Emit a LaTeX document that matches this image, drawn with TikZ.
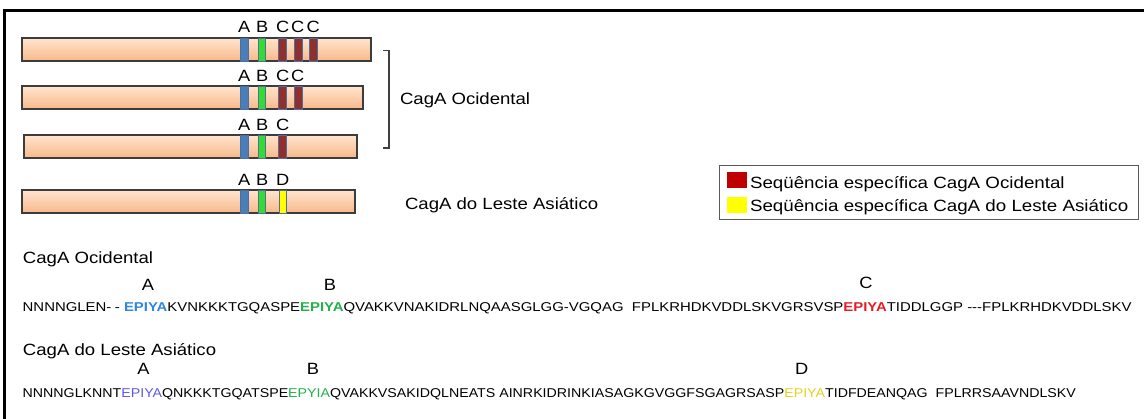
\documentclass[tikz,border=0pt]{standalone}
\usepackage{fontspec}
\setmainfont{Liberation Sans}[Ligatures=TeXOff]
\definecolor{peachtop}{RGB}{255,229,206}
\definecolor{peachbot}{RGB}{247,184,138}
\definecolor{barline}{RGB}{60,60,60}
\definecolor{segblue}{RGB}{74,126,187}
\definecolor{seggreen}{RGB}{50,220,50}
\definecolor{segred}{RGB}{142,48,48}
\definecolor{segyellow}{RGB}{255,255,0}
\definecolor{segline}{RGB}{80,110,150}
\definecolor{legred}{RGB}{192,0,0}
\definecolor{legline}{RGB}{90,90,90}
\definecolor{brk}{RGB}{64,64,64}
\definecolor{sqblue}{RGB}{46,134,222}
\definecolor{sqgreen}{RGB}{37,176,74}
\definecolor{sqred}{RGB}{227,30,36}
\definecolor{sqpurple}{RGB}{90,90,230}
\definecolor{sqyellow}{RGB}{228,210,30}
\newcommand\sx[2]{\scalebox{#1}[1]{#2}}
\begin{document}
\begin{tikzpicture}[x=1pt,y=-1pt,
  bar/.style={draw=barline, line width=1.1pt, top color=peachtop, bottom color=peachbot,
    inner sep=0pt, outer sep=0pt, anchor=north west, minimum height=23pt},
  seg/.style={draw=segline, line width=0.7pt, inner sep=0pt, outer sep=0pt,
    minimum width=7.6pt, minimum height=23pt},
  lbl/.style={inner sep=0pt, outer sep=0pt, font=\fontsize{16.3}{19}\selectfont},
  head/.style={inner sep=0pt, outer sep=0pt, anchor=base west, font=\fontsize{16.3}{19}\selectfont},
  seqtxt/.style={inner sep=0pt, outer sep=0pt, anchor=base west, font=\fontsize{12.8}{15}\selectfont},
  sq/.style={inner sep=0pt, outer sep=0pt, anchor=north west, minimum width=20.6pt, minimum height=16pt}
]
\useasboundingbox (0,0) rectangle (1144,419);
% outer frame (only top and left edges visible)
\draw[line width=2.8pt] (4.5,419) -- (4.5,10.5) -- (1144,10.5);

% bars
\node[bar, minimum width=349pt] (bar1) at (22,38) {};
\node[bar, minimum width=341pt] (bar2) at (22,86) {};
\node[bar, minimum width=333pt] (bar3) at (24,135) {};
\node[bar, minimum width=333pt] (bar4) at (22,190) {};

% segments
\node[seg, fill=segblue]  (s1a)  at (244.6,49.5) {};
\node[seg, fill=seggreen] (s1b)  at (261.8,49.5) {};
\node[seg, fill=segred]   (s1c1) at (282.5,49.5) {};
\node[seg, fill=segred]   (s1c2) at (298.3,49.5) {};
\node[seg, fill=segred]   (s1c3) at (313.2,49.5) {};

\node[seg, fill=segblue]  (s2a)  at (244.6,97.5) {};
\node[seg, fill=seggreen] (s2b)  at (261.8,97.5) {};
\node[seg, fill=segred]   (s2c1) at (282.5,97.5) {};
\node[seg, fill=segred]   (s2c2) at (298.3,97.5) {};

\node[seg, fill=segblue]  (s3a)  at (244.6,146.5) {};
\node[seg, fill=seggreen] (s3b)  at (261.8,146.5) {};
\node[seg, fill=segred]   (s3c1) at (282.5,146.5) {};

\node[seg, fill=segblue]   (s4a) at (244.6,201.5) {};
\node[seg, fill=seggreen]  (s4b) at (261.8,201.5) {};
\node[seg, fill=segyellow] (s4d) at (282.7,201.5) {};

% segment labels
\node[lbl] (l1a)  at (244.3,26.7) {\sx{1.12}{A}};
\node[lbl] (l1b)  at (262.3,26.7) {\sx{1.12}{B}};
\node[lbl] (l1c1) at (282.7,26.7) {\sx{1.12}{C}};
\node[lbl] (l1c2) at (297.7,26.7) {\sx{1.12}{C}};
\node[lbl] (l1c3) at (313.3,26.7) {\sx{1.12}{C}};

\node[lbl] (l2a)  at (244.3,76) {\sx{1.12}{A}};
\node[lbl] (l2b)  at (262.3,76) {\sx{1.12}{B}};
\node[lbl] (l2c1) at (282.7,76) {\sx{1.12}{C}};
\node[lbl] (l2c2) at (297.7,76) {\sx{1.12}{C}};

\node[lbl] (l3a)  at (244.3,125) {\sx{1.12}{A}};
\node[lbl] (l3b)  at (262.3,125) {\sx{1.12}{B}};
\node[lbl] (l3c1) at (282.7,125) {\sx{1.12}{C}};

\node[lbl] (l4a)  at (244.3,180) {\sx{1.12}{A}};
\node[lbl] (l4b)  at (262.3,180) {\sx{1.12}{B}};
\node[lbl] (l4d)  at (282.7,180) {\sx{1.12}{D}};

% bracket
\coordinate (brtop) at (389,50.7);
\coordinate (brbot) at (389,148);
\draw[brk, line width=1.3pt] ([xshift=-6pt]brtop) -- (brtop) -- (brbot) -- ([xshift=-6pt]brbot);

\node[head] (tocc) at (400,105) {\sx{1.14}{CagA Ocidental}};
\node[head] (tasia) at (405,210) {\sx{1.14}{CagA do Leste Asiático}};

% legend
\node[draw=legline, line width=0.9pt, inner sep=0pt, anchor=north west,
      minimum width=419pt, minimum height=54pt] (legend) at (719,165) {};
\node[sq, fill=legred]    (sqr) at (726.7,172.3) {};
\node[sq, fill=segyellow] (sqy) at (726.7,196.7) {};
\node[head] (legt1) at (750,188.3) {\sx{1.15}{Seqüência específica CagA Ocidental}};
\node[head] (legt2) at (750,211.7) {\sx{1.15}{Seqüência específica CagA do Leste Asiático}};

% sequences
\node[head] (hocc) at (23,264) {\sx{1.14}{CagA Ocidental}};
\node[lbl] (qa1) at (148,284.7) {\sx{1.12}{A}};
\node[lbl] (qb1) at (330,284.7) {\sx{1.12}{B}};
\node[lbl] (qc1) at (866,283) {\sx{1.12}{C}};
\node[seqtxt] (seq1) at (22.7,312) {\sx{1.166}{NNNNGLEN-\kern3pt- {\bfseries\color{sqblue}EPIYA}KVNKKKTGQASPE{\bfseries\color{sqgreen}EPIYA}QVAKKVNAKIDRLNQAASGLGG-VGQAG\ \ FPLKRHDKVDDLSKVGRSVSP{\bfseries\color{sqred}EPIYA}TIDDLGGP ---FPLKRHDKVDDLSKV}};

\node[head] (hasia) at (23,355.7) {\sx{1.14}{CagA do Leste Asiático}};
\node[lbl] (qa2) at (143.5,369) {\sx{1.12}{A}};
\node[lbl] (qb2) at (313,369) {\sx{1.12}{B}};
\node[lbl] (qd2) at (801.7,369) {\sx{1.12}{D}};
\node[seqtxt] (seq2) at (22.7,397.7) {\sx{1.11}{NNNNGLKNNT{\color{sqpurple}EPIYA}QNKKKTGQATSPE{\color{sqgreen}EPYIA}QVAKKVSAKIDQLNEATS AINRKIDRINKIASAGKGVGGFSGAGRSASP{\color{sqyellow}EPIYA}TIDFDEANQAG\ \ FPLRRSAAVNDLSKV}};
\end{tikzpicture}
\end{document}
